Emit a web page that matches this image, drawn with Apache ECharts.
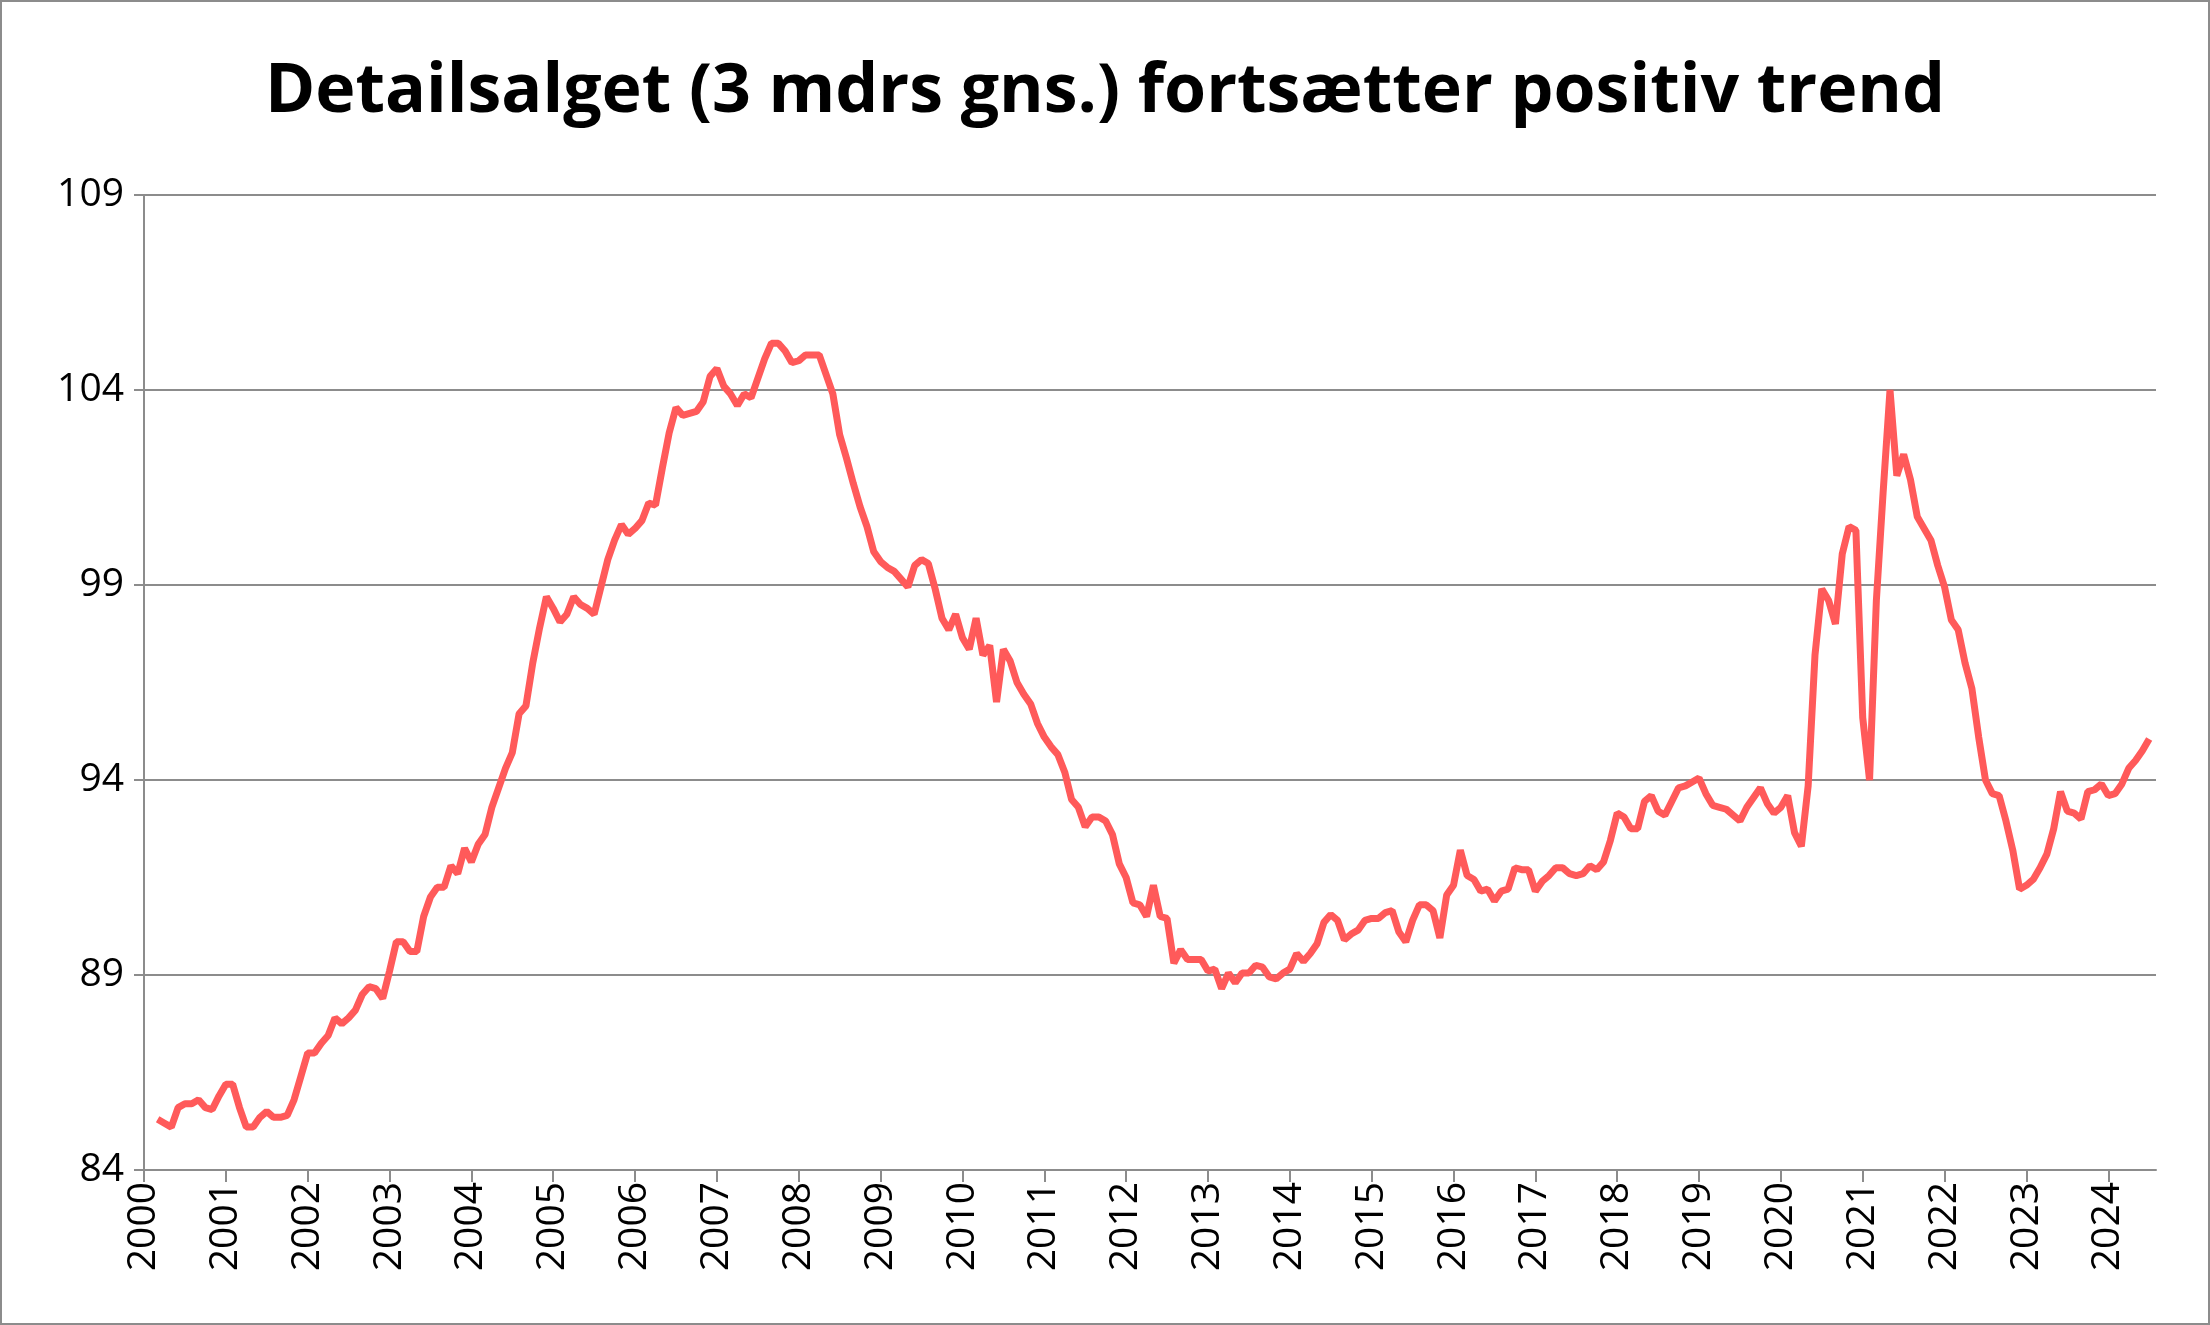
<!DOCTYPE html>
<html>
<head>
<meta charset="utf-8">
<script src="https://cdn.jsdelivr.net/npm/echarts@6/dist/echarts.min.js"></script>
<style>
  html, body { margin: 0; padding: 0; background: #fff; }
  #chart { width: 2210px; height: 1325px; box-sizing: border-box; border: 2px solid #8c8c8c; }
</style>
</head>
<body>
<div id="chart"></div>
<script>
// Detailsalg, 3 mdrs gns., månedlig fra jan 2000 (første to måneder mangler)
const aarStart = 2000;
const antalMdr = 296;

const vaerdier2000_2006 = [
  null, null, 85.3, 85.2, 85.1, 85.6, 85.7, 85.7, 85.8, 85.6, 85.55, 85.9,
  86.2, 86.2, 85.6, 85.1, 85.1, 85.35, 85.5, 85.35, 85.35, 85.4, 85.8, 86.4,
  87.0, 87.0, 87.25, 87.45, 87.9, 87.75, 87.9, 88.1, 88.5, 88.7, 88.65, 88.4,
  89.1, 89.85, 89.85, 89.6, 89.6, 90.5, 91.0, 91.25, 91.25, 91.8, 91.6, 92.25,
  91.9, 92.35, 92.6, 93.3, 93.8, 94.3, 94.7, 95.7, 95.9, 97.0, 97.9, 98.7,
  98.4, 98.05, 98.25, 98.7, 98.5, 98.4, 98.25, 98.95, 99.65, 100.15, 100.55, 100.3,
  100.45, 100.65, 101.1, 101.05, 102.0, 102.9, 103.55, 103.35, 103.4, 103.45, 103.7, 104.35
];
const vaerdier2007_2012 = [
  104.55, 104.1, 103.9, 103.6, 103.9, 103.8, 104.3, 104.8, 105.2, 105.2, 105.0, 104.7,
  104.75, 104.9, 104.9, 104.9, 104.4, 103.9, 102.85, 102.25, 101.6, 101.0, 100.5, 99.85,
  99.6, 99.45, 99.35, 99.15, 98.95, 99.5, 99.65, 99.55, 98.9, 98.15, 97.85, 98.25,
  97.65, 97.35, 98.15, 97.2, 97.45, 96.0, 97.35, 97.05, 96.5, 96.2, 95.95, 95.45,
  95.1, 94.85, 94.65, 94.2, 93.5, 93.3, 92.8, 93.05, 93.05, 92.95, 92.6, 91.85,
  91.5, 90.85, 90.8, 90.5, 91.3, 90.5, 90.45, 89.3, 89.65, 89.4, 89.4, 89.4
];
const vaerdier2013_2018 = [
  89.1, 89.15, 88.65, 89.05, 88.8, 89.05, 89.05, 89.25, 89.2, 88.95, 88.9, 89.05,
  89.15, 89.55, 89.35, 89.55, 89.8, 90.35, 90.55, 90.4, 89.9, 90.05, 90.15, 90.4,
  90.45, 90.45, 90.6, 90.65, 90.1, 89.85, 90.4, 90.8, 90.8, 90.65, 89.95, 91.05,
  91.3, 92.2, 91.55, 91.45, 91.15, 91.2, 90.9, 91.15, 91.2, 91.75, 91.7, 91.7,
  91.15, 91.4, 91.55, 91.75, 91.75, 91.6, 91.55, 91.6, 91.8, 91.7, 91.9, 92.45,
  93.15, 93.05, 92.75, 92.75, 93.45, 93.6, 93.2, 93.1, 93.45, 93.8, 93.85, 93.95
];
const vaerdier2019_2024 = [
  94.05, 93.65, 93.35, 93.3, 93.25, 93.1, 92.95, 93.3, 93.55, 93.8, 93.4, 93.15,
  93.3, 93.6, 92.65, 92.3, 93.85, 97.2, 98.9, 98.6, 98.0, 99.8, 100.5, 100.4,
  95.6, 94.0, 98.6, 101.4, 104.0, 101.8, 102.35, 101.7, 100.75, 100.45, 100.15, 99.5,
  98.95, 98.1, 97.85, 97.0, 96.35, 95.1, 94.0, 93.65, 93.6, 92.95, 92.2, 91.2,
  91.3, 91.45, 91.75, 92.1, 92.75, 93.7, 93.2, 93.15, 93.0, 93.7, 93.75, 93.9,
  93.6, 93.65, 93.9, 94.3, 94.5, 94.75, 95.05, null
];
const yTicks = [84, 89, 94, 99, 104, 109];

const vaerdier = [].concat(vaerdier2000_2006, vaerdier2007_2012, vaerdier2013_2018, vaerdier2019_2024);
const maaneder = [];
for (let i = 0; i < antalMdr; i++) {
  maaneder.push(String(aarStart + Math.floor(i / 12)) + "-" + String(i % 12 + 1).padStart(2, "0"));
}

const chart = echarts.init(document.getElementById("chart"));
chart.setOption({
  animation: false,
  title: {
    text: "Detailsalget (3 mdrs gns.) fortsætter positiv trend",
    left: "center",
    top: 52,
    textStyle: { fontFamily: "Open Sans", fontWeight: "bold", fontSize: 68, color: "#000" }
  },
  grid: { left: 142, right: 52, top: 193, bottom: 153 },
  xAxis: {
    type: "category",
    data: maaneder,
    boundaryGap: false,
    axisLine: { lineStyle: { color: "#8c8c8c", width: 2 } },
    axisTick: { interval: (i) => i % 12 === 0, length: 12, lineStyle: { color: "#8c8c8c", width: 2 } },
    axisLabel: {
      interval: (i) => i % 12 === 0,
      formatter: (v) => v.slice(0, 4),
      rotate: 90,
      margin: 12,
      fontFamily: "Open Sans",
      fontSize: 39,
      color: "#000"
    },
    splitLine: { show: false }
  },
  yAxis: {
    type: "value",
    min: yTicks[0],
    max: yTicks[yTicks.length - 1],
    interval: 5,
    axisLine: { show: true, lineStyle: { color: "#8c8c8c", width: 2 } },
    axisTick: { show: true, length: 10, lineStyle: { color: "#8c8c8c", width: 2 } },
    axisLabel: { margin: 20, fontFamily: "Open Sans", fontSize: 39, color: "#000" },
    splitLine: { lineStyle: { color: "#8c8c8c", width: 2 } }
  },
  series: [{
    type: "line",
    data: vaerdier,
    showSymbol: false,
    connectNulls: false,
    lineStyle: { color: "#ff5a5a", width: 7 },
    itemStyle: { color: "#ff5a5a" }
  }]
});
</script>
</body>
</html>
